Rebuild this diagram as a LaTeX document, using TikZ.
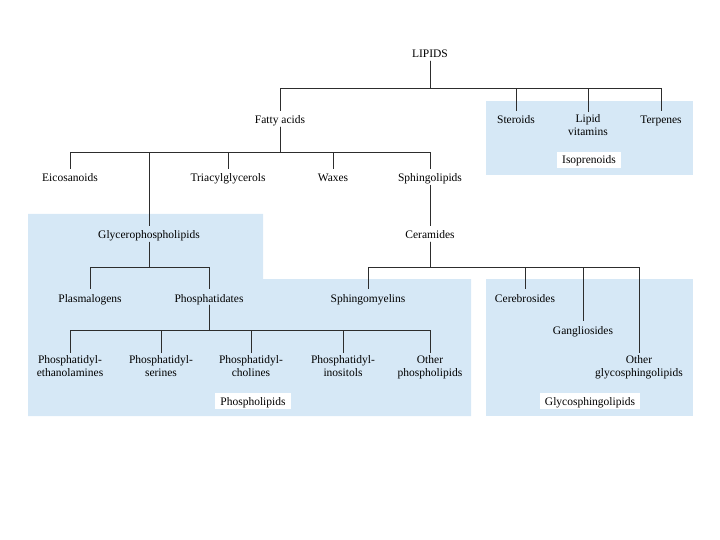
\documentclass[tikz,border=0pt]{standalone}
\usepackage{fontspec}
\setmainfont{Liberation Serif}
\definecolor{boxblue}{RGB}{214,232,246}
\definecolor{linegray}{RGB}{45,45,45}
\tikzset{
  lbl/.style={font=\fontsize{11.5}{13}\selectfont, inner xsep=0pt, inner ysep=2pt, text height=10.5pt, text depth=0.5pt},
  lbltwo/.style={font=\fontsize{11.5}{13}\selectfont, align=center, inner xsep=0pt, inner ysep=2pt, anchor=north},
  grouplbl/.style={font=\fontsize{11.5}{13}\selectfont, fill=white, inner xsep=5pt, inner ysep=2.5pt, text height=9.5pt, text depth=1.5pt},
  conn/.style={draw=linegray, line width=0.9pt},
  groupbox/.style={fill=boxblue, draw=none}
}
\begin{document}
\begin{tikzpicture}[x=1pt, y=-1pt]
\useasboundingbox (0,0) rectangle (720,540);
% background group boxes
\path[groupbox] (486,101) rectangle (693,175);
\path[groupbox] (28,214) -- (263,214) -- (263,279) -- (471,279) -- (471,416) -- (28,416) -- cycle;
\path[groupbox] (486,279) rectangle (693,416);
% bar levels
\coordinate (barA) at (0,88);
\coordinate (barB) at (0,152);
\coordinate (barC) at (0,267);
\coordinate (barD) at (0,330);
% nodes
\node[lbl] (lipids) at (430,53) {LIPIDS};
\node[lbl] (fatty) at (280,119) {Fatty acids};
\node[lbl] (steroids) at (516,119) {Steroids};
\node[lbltwo] (vitamins) at (588,112) {Lipid\\vitamins};
\node[lbl] (terpenes) at (661,119) {Terpenes};
\node[lbl] (eicos) at (70,177) {Eicosanoids};
\node[lbl] (triacyl) at (228,177) {Triacylglycerols};
\node[lbl] (waxes) at (333,177) {Waxes};
\node[lbl] (sphingo) at (430,177) {Sphingolipids};
\node[lbl] (glycero) at (149,234) {Glycerophospholipids};
\node[lbl] (ceramides) at (430,234) {Ceramides};
\node[lbl] (plasmal) at (90,297) {Plasmalogens};
\node[lbl] (phosphatidates) at (209,297) {Phosphatidates};
\node[lbl] (sphingomy) at (368,297) {Sphingomyelins};
\node[lbl] (cerebro) at (525,297) {Cerebrosides};
\node[lbl] (ganglio) at (583,329) {Gangliosides};
\node[lbltwo] (otherglyco) at (639,353) {Other\\glycosphingolipids};
\node[lbltwo] (pe) at (70,353) {Phosphatidyl-\\ethanolamines};
\node[lbltwo] (ps) at (161,353) {Phosphatidyl-\\serines};
\node[lbltwo] (pc) at (251,353) {Phosphatidyl-\\cholines};
\node[lbltwo] (pi) at (343,353) {Phosphatidyl-\\inositols};
\node[lbltwo] (otherphos) at (430,353) {Other\\phospholipids};
% group labels
\node[grouplbl] (isoprenoids) at (589,160) {Isoprenoids};
\node[grouplbl] (phospholipids) at (253,401) {Phospholipids};
\node[grouplbl] (glycosphingo) at (590,401) {Glycosphingolipids};
% connectors
\foreach \c in {fatty,steroids,vitamins,terpenes}
  \draw[conn] (lipids.south) -- (lipids.south |- barA) -| (\c.north);
\foreach \c in {eicos,glycero,triacyl,waxes,sphingo}
  \draw[conn] (fatty.south) -- (fatty.south |- barB) -| (\c.north);
\draw[conn] (sphingo.south) -- (ceramides.north);
\foreach \c in {plasmal,phosphatidates}
  \draw[conn] (glycero.south) -- (glycero.south |- barC) -| (\c.north);
\foreach \c in {sphingomy,cerebro,ganglio,otherglyco}
  \draw[conn] (ceramides.south) -- (ceramides.south |- barC) -| (\c.north);
\foreach \c in {pe,ps,pc,pi,otherphos}
  \draw[conn] (phosphatidates.south) -- (phosphatidates.south |- barD) -| (\c.north);
\end{tikzpicture}
\end{document}
